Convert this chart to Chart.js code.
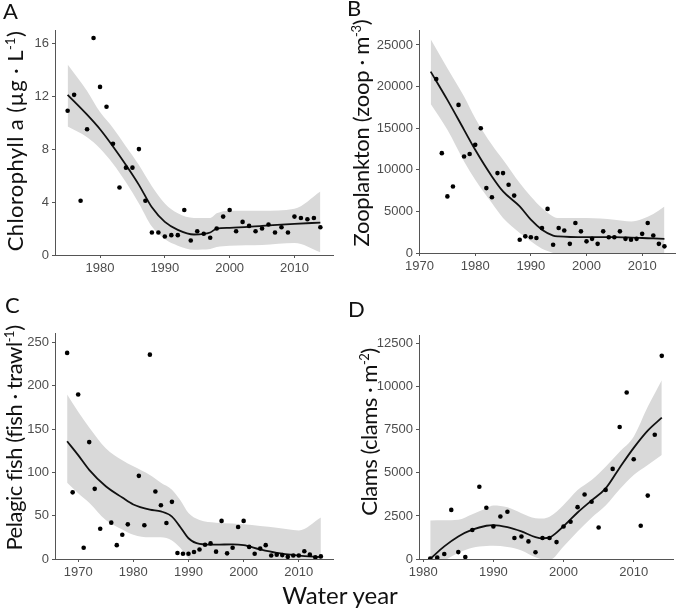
<!DOCTYPE html>
<html>
<head>
<meta charset="utf-8">
<script src="https://cdn.jsdelivr.net/npm/chart.js@4.4.1/dist/chart.umd.min.js"></script>
<style>
body { margin: 0; background: #fff; }
#wrap { position: relative; width: 679px; height: 610px; overflow: hidden; }
canvas { position: absolute; }
.letter { position: absolute; font-family: Lato, sans-serif; font-size: 22px; line-height: 1; color: #111; }
.ytitle { position: absolute; font-family: Lato, sans-serif; font-size: 22px; line-height: 1; color: #111; white-space: nowrap; transform: translate(-50%, -50%) rotate(-90deg); }
.ytitle sup { font-size: 13px; }
.xtitle { position: absolute; font-family: Lato, sans-serif; font-size: 24px; line-height: 1; color: #111; white-space: nowrap; transform: translateX(-50%); }
</style>
</head>
<body>
<div id="wrap">
  <canvas id="chartA" width="340" height="290" style="left:0;top:0"></canvas>
  <canvas id="chartB" width="339" height="290" style="left:340px;top:0"></canvas>
  <canvas id="chartC" width="340" height="300" style="left:0;top:290px"></canvas>
  <canvas id="chartD" width="339" height="300" style="left:340px;top:290px"></canvas>

  <div class="letter" style="left:3px;top:0px">A</div>
  <div class="letter" style="left:347px;top:-3px">B</div>
  <div class="letter" style="left:5px;top:294px">C</div>
  <div class="letter" style="left:348px;top:298px">D</div>

  <div class="ytitle" style="left:15px;top:141px;letter-spacing:0.4px">Chlorophyll a (µg · L<sup>-1</sup>)</div>
  <div class="ytitle" style="left:361px;top:133px;letter-spacing:-0.3px">Zooplankton (zoop · m<sup>-3</sup>)</div>
  <div class="ytitle" style="left:14px;top:438px;letter-spacing:-0.45px">Pelagic fish (fish · trawl<sup>-1</sup>)</div>
  <div class="ytitle" style="left:369px;top:432px;letter-spacing:-0.5px">Clams (clams · m<sup>-2</sup>)</div>

  <div class="xtitle" style="left:340px;top:583px">Water year</div>
</div>
<script>
"use strict";

// A: chlorophyll a
var yearsA = [1975, 1976, 1977, 1978, 1979, 1980, 1981, 1982, 1983, 1984, 1985, 1986, 1987, 1988, 1989, 1990, 1991, 1992, 1993, 1994,
    1995, 1996, 1997, 1998, 1999, 2000, 2001, 2002, 2003, 2004, 2005, 2006, 2007, 2008, 2009, 2010, 2011, 2012, 2013, 2014];
var chlA = [10.9, 12.1, 4.1, 9.5, 16.4, 12.7, 11.2, 8.4, 5.1, 6.6, 6.6, 8.0, 4.1, 1.7, 1.7, 1.4, 1.5, 1.5, 3.4, 1.1,
    1.8, 1.6, 1.3, 2.0, 2.9, 3.4, 1.8, 2.5, 2.2, 1.8, 2.0, 2.3, 1.7, 2.1, 1.7, 2.9, 2.8, 2.7, 2.8, 2.1];
var fitYearsA = [1975, 1978, 1980, 1982, 1984, 1986, 1988, 1990, 1992, 1994.5, 1997, 1998, 2000, 2005, 2010, 2014];
var fitA = [12.1, 10.6, 9.5, 8.2, 6.8, 5.3, 3.6, 2.5, 1.9, 1.55, 1.7, 2.0, 2.05, 2.2, 2.35, 2.45];
var upperA = [14.4, 12.4, 10.8, 9.6, 8.2, 6.8, 5.2, 3.9, 3.15, 2.8, 2.8, 3.15, 3.35, 3.35, 3.5, 4.8];
var lowerA = [9.7, 8.9, 8.05, 6.9, 5.5, 3.9, 2.15, 1.2, 0.7, 0.4, 0.45, 0.6, 0.7, 0.75, 0.9, 0.2];
var xTicksA = [1980, 1990, 2000, 2010];
var yTicksA = [0, 4, 8, 12, 16];

// B: zooplankton
var yearsB = [1973, 1974, 1975, 1976, 1977, 1978, 1979, 1980, 1981, 1982, 1983, 1984, 1985, 1986, 1987, 1988, 1989, 1990, 1991, 1992,
    1993, 1994, 1995, 1996, 1997, 1998, 1999, 2000, 2001, 2002, 2003, 2004, 2005, 2006, 2007, 2008, 2009, 2010, 2011, 2012, 2013, 2014];
var zoopB = [20900, 12000, 6800, 8000, 17800, 11600, 11900, 13000, 15000, 7800, 6700, 9600, 9600, 8200, 6900, 1600, 2000, 1900, 1800, 3000,
    5300, 1000, 3000, 2700, 1100, 3600, 2600, 1400, 1700, 1100, 2600, 1900, 1900, 2600, 1700, 1600, 1700, 2300, 3600, 2100, 1100, 800];
var fitYearsB = [1972, 1975, 1978, 1980, 1983, 1985, 1988, 1990, 1992, 1994, 1995, 2000, 2005, 2008, 2010, 2012, 2014];
var fitB = [21800, 18400, 14800, 12400, 9200, 7400, 5600, 4000, 2800, 2100, 2000, 1900, 1900, 1850, 1800, 1750, 1700];
var upperB = [25700, 22200, 18800, 16200, 13000, 11200, 8400, 6800, 5400, 4400, 4200, 4200, 4000, 3800, 4100, 4700, 5600];
var lowerB = [17900, 14800, 11000, 8800, 6000, 4200, 2400, 1400, 500, 0, -200, -300, -200, -100, -400, -1200, -2100];
var xTicksB = [1970, 1980, 1990, 2000, 2010];
var yTicksB = [0, 5000, 10000, 15000, 20000, 25000];

// C: pelagic fish
var yearsC = [1968, 1969, 1970, 1971, 1972, 1973, 1974, 1976, 1977, 1978, 1979, 1981, 1982, 1983, 1984, 1985, 1986, 1987, 1988, 1989,
    1990, 1991, 1992, 1993, 1994, 1995, 1996, 1997, 1998, 1999, 2000, 2001, 2002, 2003, 2004, 2005, 2006, 2007, 2008, 2009,
    2010, 2011, 2012, 2013, 2014];
var fishC = [238, 77, 190, 13, 135, 81, 35, 42, 16, 28, 40, 96, 39, 236, 78, 62, 41.5, 66, 7, 6,
    6, 8, 11, 16.5, 18, 8.5, 44, 6.5, 13, 37, 44, 14, 6, 12, 16, 4, 5, 4.5, 2.5, 4,
    4, 9, 5, 2, 3];
var fitYearsC = [1968, 1970, 1972, 1975, 1978, 1980, 1983, 1985, 1987, 1988.5, 1990, 1992, 1995, 1998, 2000, 2003, 2006, 2010, 2014];
var fitC = [136, 120, 103, 84, 71, 63, 57, 55, 49, 37, 24, 17.5, 16.5, 17, 16, 11, 7, 4, 2];
var upperC = [190, 170, 152, 128, 114, 107, 97, 88, 80, 68, 53, 45, 42, 41, 40, 38, 36, 33, 48];
var lowerC = [88, 76, 65, 45, 34, 28, 25, 25, 21.5, 13, 1, -5, -4, -2, -2, -3, -5, -8, -20];
var xTicksC = [1970, 1980, 1990, 2000, 2010];
var yTicksC = [0, 50, 100, 150, 200, 250];

// D: clams
var yearsD = [1981, 1982, 1983, 1984, 1985, 1986, 1987, 1988, 1989, 1990, 1991, 1992, 1993, 1994, 1995, 1996, 1997, 1998, 1999, 2000,
    2001, 2002, 2003, 2004, 2005, 2006, 2007, 2008, 2009, 2010, 2011, 2012, 2013, 2014];
var clamsD = [30, 80, 290, 2850, 400, 120, 1680, 4190, 2970, 1890, 2470, 2740, 1220, 1310, 1020, 390, 1220, 1220, 980, 1890,
    2160, 3010, 3740, 3320, 1830, 4010, 5230, 7660, 9660, 5790, 1930, 3680, 7210, 11790];
var fitYearsD = [1981, 1983, 1985, 1987, 1989, 1990, 1992, 1994, 1996, 1997, 1998, 2000, 2002, 2004, 2006, 2008, 2010, 2012, 2014];
var fitD = [0, 730, 1310, 1700, 1930, 1970, 1850, 1600, 1270, 1200, 1250, 1900, 2700, 3400, 4100, 5300, 6450, 7450, 8200];
var upperD = [2240, 2250, 2280, 2600, 2950, 3100, 3000, 2660, 2370, 2350, 2450, 3140, 4010, 4590, 5360, 6230, 7100, 8830, 10380];
var lowerD = [-600, -100, 350, 650, 750, 770, 700, 500, 100, -20, -50, 730, 1600, 2400, 3100, 4050, 4880, 5460, 6040];
var xTicksD = [1980, 1990, 2000, 2010];
var yTicksD = [0, 2500, 5000, 7500, 10000, 12500];

function pairs(xs, ys) {
    return xs.map(function (x, i) { return { x: x, y: ys[i] }; });
}

function axis(min, max, tickVals, size, horizontal) {
    return {
        type: 'linear',
        min: min,
        max: max,
        border: { display: true, color: '#555', width: 1 },
        grid: { drawOnChartArea: false, drawTicks: true, tickLength: 3, color: '#555' },
        ticks: {
            color: '#4d4d4d',
            padding: 3,
            font: { family: 'Liberation Sans', size: 13 },
            maxRotation: 0,
            callback: function (v) { return String(v); }
        },
        afterBuildTicks: function (s) {
            s.ticks = tickVals.map(function (v) { return { value: v }; });
        },
        afterFit: function (s) {
            if (horizontal) { s.height = size; } else { s.width = size; }
        }
    };
}

function panel(id, xs, ys, fx, fit, up, lo, xr, yr, xTicks, yTicks, pad, yw, xh) {
    new Chart(document.getElementById(id), {
        type: 'scatter',
        data: {
            datasets: [{
                data: pairs(xs, ys),
                pointRadius: 2.3,
                pointBackgroundColor: '#000',
                pointBorderWidth: 0
            }, {
                data: pairs(fx, fit),
                showLine: true,
                pointRadius: 0,
                borderColor: '#111',
                borderWidth: 1.8,
                cubicInterpolationMode: 'monotone'
            }, {
                data: pairs(fx, up),
                showLine: true,
                pointRadius: 0,
                borderWidth: 0,
                borderColor: 'rgba(0,0,0,0)',
                backgroundColor: '#d9d9d9',
                cubicInterpolationMode: 'monotone',
                fill: '+1'
            }, {
                data: pairs(fx, lo),
                showLine: true,
                pointRadius: 0,
                borderWidth: 0,
                borderColor: 'rgba(0,0,0,0)',
                cubicInterpolationMode: 'monotone',
                fill: false
            }]
        },
        options: {
            responsive: false,
            animation: false,
            layout: { padding: { left: 0, top: pad[0], right: pad[1], bottom: 0 } },
            plugins: { legend: { display: false }, tooltip: { enabled: false } },
            scales: {
                x: axis(xr[0], xr[1], xTicks, xh, true),
                y: axis(yr[0], yr[1], yTicks, yw, false)
            }
        }
    });
}

panel('chartA', yearsA, chlA, fitYearsA, fitA, upperA, lowerA, [1973.05, 2015.95], [0, 17], xTicksA, yTicksA, [30, 7], 55, 35);
panel('chartB', yearsB, zoopB, fitYearsB, fitB, upperB, lowerB, [1969.9, 2015.9], [0, 26800], xTicksB, yTicksB, [30, 4], 79, 37);
panel('chartC', yearsC, fishC, fitYearsC, fitC, upperC, lowerC, [1965.8, 2016.2], [0, 261], xTicksC, yTicksC, [43, 7], 55, 31);
panel('chartD', yearsD, clamsD, fitYearsD, fitD, upperD, lowerD, [1979.4, 2015.6], [0, 13000], xTicksD, yTicksD, [45, 6], 79, 31);
</script>
</body>
</html>
